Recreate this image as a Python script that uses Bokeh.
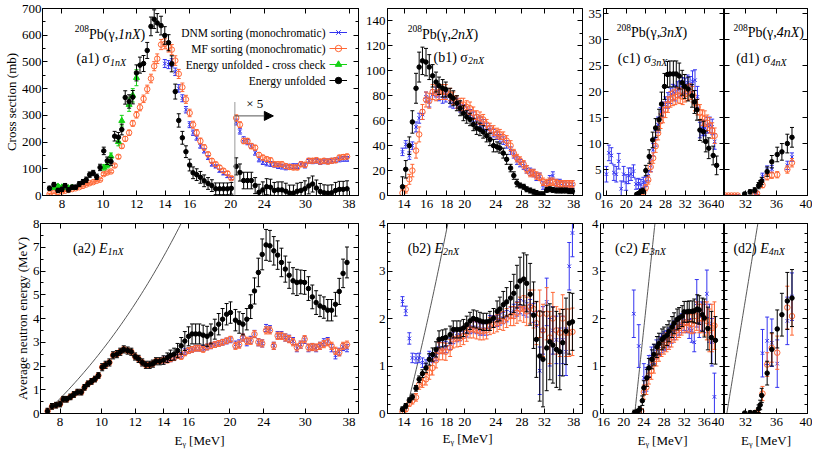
import numpy as np
from bokeh.plotting import figure
from bokeh.layouts import row, column
from bokeh.models import (Range1d, FixedTicker, LinearAxis, LogAxis, BasicTickFormatter,
                          CustomJSTickFormatter, Label, Legend, LegendItem, Title,
                          ColumnDataSource, Arrow, NormalHead)
from bokeh.embed import file_html
from bokeh.resources import INLINE

FONT = "Liberation Serif"
C_DNM = "#3434f0"
C_MF = "#ff6633"
C_CC = "#14d214"
C_EU = "#000000"
X5 = 5.0          # display factor applied above X5_FROM in panel (a1)
X5_FROM = 20.3

# ---------------------------------------------------------------- data
# column (a): 1n channel, shared energy bins (MeV)
EA = [7.48, 7.66, 7.83, 8.00, 8.14, 8.29, 8.46, 8.62, 8.79, 8.97,
      9.13, 9.30, 9.48, 9.66, 9.84, 10.04, 10.23, 10.44, 10.65, 10.87,
      11.07, 11.28, 11.52, 11.75, 11.99, 12.22, 12.46, 12.71, 12.97, 13.20,
      13.42, 13.70, 13.98, 14.27, 14.52, 14.80, 15.08, 15.38, 15.68, 16.00,
      16.30, 16.62, 16.96, 17.31, 17.68, 18.05, 18.43, 18.82, 19.22, 19.64,
      20.06,
      20.60, 21.02, 21.45, 21.90, 22.36, 22.83, 23.31, 23.80, 24.30, 24.81,
      25.33, 25.86, 26.40, 26.96, 27.52, 28.10, 28.69, 29.29, 29.91, 30.54,
      31.18, 31.83, 32.50, 33.18, 33.88, 34.59, 35.32, 36.06, 36.81, 37.59]

S1_EU = [27, 41, 19, 23, 37, 21, 31, 31, 43, 51,
         59, 78, 84, 70, 105, 167, 130, 127, 222, 218,
         247, 367, 352, 368, 459, 488, 494, 543, 633, 660,
         646, 636, 599, 572, 493, 389, 281, 216, 164, 114,
         85, 78, 68, 55, 45, 37, 25, 25, 25, 25,
         27,
         21.8, 17.2, 11.2, 11.2, 11.2, 7.4, 2.4, 4.2, 6.6, 6.2,
         3.8, 4.2, 4.2, 3.2, 1.8, 1.8, 3.2, 3.8, 5.0, 7.2,
         8.6, 5.6, 3.0, 2.0, 1.8, 2.0, 3.8, 4.6, 4.6, 5.0]
S1_EU_ERR = [8, 8, 8, 8, 8, 8, 8, 8, 9, 9,
             10, 10, 10, 10, 12, 14, 14, 14, 18, 18,
             20, 25, 25, 25, 30, 30, 30, 30, 35, 35,
             35, 35, 33, 30, 30, 28, 25, 24, 22, 22,
             22, 22, 22, 22, 22, 22, 22, 22, 22, 22,
             22,
             6.4, 6.4, 6.2, 6.2, 6.2, 6.0, 6.0, 6.0, 6.0, 6.0,
             6.0, 6.0, 6.0, 6.0, 6.0, 6.0, 6.0, 6.0, 6.0, 6.0,
             6.0, 6.0, 6.0, 6.0, 6.0, 6.0, 6.0, 6.0, 6.0, 6.0]

S1_MF = [5, 10, 13, 15, 18, 21, 24, 27, 31, 36,
         41, 46, 50, 55, 59, 80, 86, 90, 112, 145,
         185, 212, 235, 270, 302, 330, 362, 398, 438, 484,
         512, 565, 568, 556, 546, 505, 455, 405, 360, 309,
         265, 235, 204, 180, 154, 130, 117, 105, 93, 83,
         65,
         58, 53, 40.8, 40.8, 37, 35.8, 30.4, 28.4, 27.2, 26.4,
         23.4, 23.4, 23.4, 22, 21.4, 21, 21, 23.4, 23, 26,
         26, 26.4, 25.4, 26, 25.4, 26, 26.4, 28.4, 28.8, 29.2]
S1_MF_ERR = [3, 3, 3, 3, 3, 3, 3, 3, 3, 4,
             4, 4, 4, 4, 4, 5, 5, 5, 6, 7,
             8, 9, 10, 11, 12, 13, 14, 15, 16, 17,
             18, 19, 19, 19, 19, 18, 17, 16, 15, 14,
             13, 12, 11, 10, 9, 8, 8, 7, 7, 7,
             6,
             2.4, 2.2, 2.0, 2.0, 2.0, 1.8, 1.8, 1.8, 1.8, 1.8,
             1.8, 1.8, 1.8, 1.8, 1.8, 1.8, 1.8, 1.8, 1.8, 1.8,
             1.8, 1.8, 1.8, 1.8, 1.8, 1.8, 1.8, 1.8, 1.8, 1.8]

S1_DNM = [None] * 32 + [
         494, 490, 497, 463, 401, 364, 321, 265, 235, 216,
         185, 167, 142, 117, 109, 93, 83, 72, 64,
         55, 48, 42, 40, 37, 32, 27, 25, 24, 23.6,
         23, 22, 21.6, 21, 21.6, 22, 22, 23.6, 22.4, 26,
         25.6, 26, 25, 25.6, 25.6, 26, 26.4, 27, 27.4, 27.4]
S1_DNM_ERR = [None] * 32 + [
         15, 15, 15, 14, 14, 13, 12, 11, 10, 9,
         8, 8, 7, 7, 6, 6, 6, 5, 5,
         2.2, 2.0, 2.0, 2.0, 1.8, 1.8, 1.8, 1.8, 1.8, 1.8,
         1.8, 1.8, 1.8, 1.8, 1.8, 1.8, 1.8, 1.8, 1.8, 1.8,
         1.8, 1.8, 1.8, 1.8, 1.8, 1.8, 1.8, 1.8, 1.8, 1.8]

S1_CC = [None, 30, 34, 31, 33, 28, 30, None, None, None,
         None, None, None, None, None, 105, 113, 147, None, 201,
         280, None, 340, 375, 441]
S1_CC_ERR = [None, 7, 7, 7, 7, 7, 7, None, None, None,
             None, None, None, None, None, 10, 10, 12, None, 15,
             20, None, 25, 25, 30]

E1_EU = [0.1, 0.3, 0.35, 0.4, 0.6, 0.6, 0.7, 0.8, 0.9, 0.9,
         1.1, 1.25, 1.35, 1.45, 1.6, 1.95, 2.05, 2.15, 2.45, 2.5,
         2.6, 2.7, 2.65, 2.6, 2.4, 2.3, 2.15, 2.05, 2.05, 2.1,
         2.2, 2.2, 2.25, 2.35, 2.45, 2.5, 2.65, 2.85, 3.05, 3.25,
         3.35, 3.35, 3.35, 3.3, 3.25, 3.35, 3.55, 3.76, 3.97, 4.18,
         4.25,
         3.93, 3.83, 3.76, 3.97, 4.5, 5.16, 5.94, 6.7, 7.1, 7.06,
         6.85, 6.67, 6.36, 6.08, 5.82, 5.59, 5.52, 5.54, 5.52, 5.26,
         4.91, 4.67, 4.53, 4.46, 4.35, 4.35, 4.6, 5.14, 5.9, 6.36]
E1_EU_ERR = [0.12, 0.12, 0.12, 0.12, 0.12, 0.12, 0.12, 0.12, 0.12, 0.12,
             0.12, 0.12, 0.12, 0.12, 0.12, 0.15, 0.15, 0.15, 0.15, 0.15,
             0.15, 0.15, 0.15, 0.15, 0.15, 0.15, 0.15, 0.15, 0.15, 0.15,
             0.15, 0.15, 0.18, 0.2, 0.22, 0.25, 0.3, 0.35, 0.4, 0.4,
             0.42, 0.42, 0.42, 0.42, 0.42, 0.42, 0.42, 0.45, 0.45, 0.45,
             0.45,
             0.45, 0.45, 0.45, 0.45, 0.5, 0.55, 0.6, 0.65, 0.65, 0.65,
             0.6, 0.6, 0.6, 0.55, 0.55, 0.55, 0.55, 0.5, 0.5, 0.5,
             0.5, 0.5, 0.45, 0.45, 0.45, 0.45, 0.5, 0.55, 0.6, 0.65]
E1_MF = [0.1, 0.3, 0.35, 0.4, 0.6, 0.6, 0.7, 0.8, 0.9, 0.9,
         1.1, 1.25, 1.35, 1.45, 1.6, 1.95, 2.05, 2.15, 2.45, 2.5,
         2.6, 2.7, 2.65, 2.6, 2.4, 2.3, 2.15, 2.05, 2.05, 2.1,
         2.2, 2.2, 2.25, 2.25, 2.3, 2.35, 2.45, 2.4, 2.55, 2.65,
         2.7, 2.75, 2.75, 2.7, 2.8, 2.85, 2.9, 2.95, 3.0, 3.06,
         3.13,
         2.85, 2.9, 3.2, 3.06, 3.06, 3.34, 3.0, 2.95, 3.5, 3.5,
         2.85, 3.27, 3.27, 3.2, 3.13, 3.0, 2.78, 2.9, 3.13, 2.78,
         2.8, 2.78, 2.85, 2.92, 3.0, 2.85, 2.64, 2.57, 2.85, 2.9]
E1_MF_ERR = [0.1] * 32 + [0.12] * 19 + [0.15] * 30
E1_DNM = [None] * 32 + [
         2.25, 2.3, 2.3, 2.35, 2.45, 2.45, 2.6, 2.65, 2.7, 2.75,
         2.75, 2.75, 2.8, 2.85, 2.9, 2.95, 3.0, 3.05, 3.1,
         2.9, 2.95, 3.2, 3.0, 3.1, 3.35, 3.0, 2.95, 3.6, 3.55,
         2.85, 3.3, 3.3, 3.2, 3.15, 3.05, 2.75, 2.9, 3.1, 2.75,
         2.8, 2.75, 2.85, 3.0, 3.05, 2.75, 2.45, 2.6, 2.8, 2.75]
E1_DNM_ERR = [None] * 32 + [0.12] * 19 + [0.15] * 30

# column (b): 2n channel
EB = [13.87, 14.14, 14.44, 14.70, 15.02, 15.30, 15.60, 15.93, 16.24, 16.56,
      16.90, 17.20, 17.57, 17.90, 18.36, 18.70, 19.10, 19.47, 19.85, 20.24,
      20.64, 21.04, 21.46, 21.88, 22.30, 22.75, 23.20, 23.70, 24.20, 24.60,
      25.10, 25.60, 26.20, 26.70, 27.20, 27.70, 28.30, 28.80, 29.40, 30.00,
      30.50, 31.10, 31.70, 32.40, 33.00, 33.60, 34.30, 35.00, 35.60, 36.30,
      37.00, 37.70]
S2_EU = [7, 21, 40, 59, 86, 103, 108, 107, 103, 96,
         91, 88, 86, 85, 80, 78, 74, 70, 66, 63,
         61, 57, 54, 53, 51, 48, 45, 40, 39, 38,
         34, 29, 22, 16, 10, 8, 7, 5, 4, 3,
         2, 1, 1, 4.5, 5, 4.5, 4, 4, 4, 4,
         3.5, 3.5]
S2_EU_ERR = [8, 7, 7, 9, 12, 12, 11, 11, 10, 9,
             8, 7, 7, 6, 6, 6, 6, 6, 6, 5,
             5, 5, 5, 5, 5, 5, 5, 5, 4, 4,
             4, 4, 3, 3, 3, 2, 2, 2, 2, 2,
             2, 2, 2, 2, 2, 2, 2, 2, 2, 2,
             2, 2]
S2_MF = [2, 5, 13, 20, 36, 49, 67, 77, 76, 83,
         82, 83, 83, 83, 81, 78, 75, 73, 73, 71,
         70, 66, 63, 62, 61, 57, 54, 52, 50, 49,
         47, 44, 40, 34, 30, 28, 25, 21, 18, 18,
         16, 15, 11, 10, 11, 11, 10, 9, 9, 9,
         9, 9]
S2_MF_ERR = [3, 3, 4, 5, 6, 6, 6, 6, 6, 6,
             6, 6, 6, 6, 5, 5, 5, 5, 5, 5,
             5, 5, 5, 5, 4, 4, 4, 4, 4, 4,
             4, 4, 4, 3, 3, 3, 3, 3, 3, 3,
             3, 3, 3, 3, 3, 3, 3, 3, 3, 3,
             3, 3]
S2_DNM = [35, 41, 32, 40, 55, 62, 65, 79, 75, 81,
          83, 80, 78, 79, 75, 74, 74, 71, 69, 67,
          65, 63, 61, 59, 57, 55, 53, 50, 48, 46,
          44, 41, 36, 33, 28, 26, 24, 21, 19, 18,
          15, 15, 8, 9, 13, 16, 10, 10, 8, 9,
          9, 9]
S2_DNM_ERR = [3, 3, 3, 3, 4, 4, 4, 4, 4, 4,
              4, 4, 4, 4, 4, 4, 4, 4, 4, 4,
              4, 4, 4, 4, 4, 3, 3, 3, 3, 3,
              3, 3, 3, 3, 3, 3, 3, 3, 3, 3,
              3, 3, 3, 3, 3, 3, 3, 3, 3, 3,
              3, 3]
E2_EU = [0.09, 0.16, 0.28, 0.35, 0.53, 0.72, 0.84, 0.96, 1.14, 1.24,
         1.35, 1.56, 1.58, 1.6, 1.66, 1.77, 1.77, 1.77, 1.8, 1.87,
         1.95, 2.0, 1.98, 1.95, 1.93, 1.93, 1.95, 2.01, 2.15, 2.2,
         2.29, 2.35, 2.43, 2.53, 2.67, 2.79, 2.83, 2.74, 2.51, 2.07,
         1.56, 1.21, 1.14, 1.38, 1.51, 1.44, 1.35, 1.3, 1.49, 1.73,
         1.9, 1.93]
E2_EU_ERR = [0.05, 0.05, 0.05, 0.06, 0.06, 0.07, 0.08, 0.1, 0.12, 0.14,
             0.16, 0.18, 0.18, 0.18, 0.18, 0.18, 0.18, 0.18, 0.18, 0.18,
             0.18, 0.18, 0.18, 0.18, 0.18, 0.18, 0.2, 0.2, 0.22, 0.25,
             0.28, 0.3, 0.35, 0.4, 0.45, 0.5, 0.55, 0.6, 0.65, 0.7,
             0.8, 0.95, 1.0, 0.9, 0.8, 0.8, 0.8, 0.8, 0.7, 0.7,
             0.65, 0.6]
E2_MF = [0.04, 0.09, 0.21, 0.27, 0.34, 0.61, 0.65, 0.72, 0.86, 0.96,
         1.12, 1.31, 1.31, 1.3, 1.38, 1.56, 1.58, 1.59, 1.63, 1.7,
         1.77, 1.77, 1.75, 1.73, 1.73, 1.75, 1.84, 1.87, 1.9, 1.95,
         1.95, 2.01, 2.05, 2.05, 2.12, 2.2, 2.2, 2.15, 2.25, 2.2,
         1.9, 2.1, 1.75, 2.1, 1.6, 2.0, 1.75, 1.7, 2.0, 1.7,
         1.7, 1.72]
E2_MF_ERR = [0.05, 0.05, 0.06, 0.07, 0.08, 0.1, 0.1, 0.12, 0.14, 0.15,
             0.16, 0.18, 0.18, 0.18, 0.18, 0.18, 0.18, 0.18, 0.18, 0.18,
             0.18, 0.18, 0.18, 0.18, 0.18, 0.18, 0.18, 0.18, 0.18, 0.18,
             0.2, 0.2, 0.2, 0.2, 0.22, 0.25, 0.28, 0.3, 0.35, 0.4,
             0.45, 0.5, 0.55, 0.55, 0.55, 0.55, 0.5, 0.5, 0.5, 0.5,
             0.5, 0.5]
E2_DNM = [2.36, 2.16, 1.58, 1.17, 1.16, 1.17, 1.07, 1.03, 1.21, 1.17,
          1.21, 1.38, 1.38, 1.4, 1.47, 1.59, 1.63, 1.65, 1.7, 1.73,
          1.8, 1.82, 1.8, 1.77, 1.77, 1.77, 1.94, 1.94, 1.95, 1.98,
          2.01, 2.05, 2.12, 2.15, 2.2, 2.25, 2.22, 2.18, 2.25, 2.12,
          1.85, 0.9, 1.75, 2.35, 1.5, 1.75, 1.55, 1.3, 1.55, 1.3,
          3.1, 3.8]
E2_DNM_ERR = [0.1, 0.1, 0.12, 0.1, 0.1, 0.1, 0.1, 0.1, 0.1, 0.1,
              0.1, 0.12, 0.12, 0.12, 0.12, 0.12, 0.12, 0.12, 0.12, 0.12,
              0.12, 0.12, 0.12, 0.12, 0.12, 0.12, 0.12, 0.12, 0.12, 0.12,
              0.12, 0.12, 0.12, 0.15, 0.15, 0.15, 0.15, 0.15, 0.15, 0.2,
              0.3, 0.5, 0.5, 0.5, 0.5, 0.5, 0.5, 0.5, 0.5, 0.5,
              0.5, 0.5]

# column (c): 3n channel
EC_EU = [22.15, 22.55, 23.0, 23.4, 24.0, 24.7, 25.4, 26.0, 26.7, 27.2,
         27.8, 28.4, 28.9, 29.6, 30.2, 30.8, 31.4, 31.9, 32.6, 33.4,
         33.9, 34.4, 35.0, 35.7, 36.2, 36.8, 37.7, 38.4]
S3_EU = [0.2, 0.4, 0.8, 0.9, 4.8, 7.5, 10.7, 13, 14.6, 17.6,
         21, 23.3, 23.4, 23.4, 23.4, 23, 21.7, 21, 20.5, 19.2,
         18, 16.5, 12.6, 12.3, 10.4, 9.1, 7.7, 5.8]
S3_EU_ERR = [0.3, 0.3, 0.4, 0.5, 1.0, 1.3, 1.5, 1.8, 2.0, 2.3,
             2.5, 2.5, 2.5, 2.5, 2.5, 2.5, 2.4, 2.3, 2.3, 2.2,
             2.2, 2.0, 2.0, 2.0, 2.0, 2.0, 1.8, 1.8]
EC_EU2 = [22.15, 22.7, 23.2, 23.7, 24.0, 24.6, 25.0, 25.6, 26.0, 26.6,
          27.0, 27.6, 28.0, 28.6, 29.0, 29.6, 30.0, 30.6, 31.0, 31.6,
          32.0, 32.6, 33.0, 33.6, 34.0, 34.6, 35.0, 35.6, 36.0, 36.7,
          37.4, 38.2]
E3_EU = [0.02, 0.04, 0.09, 0.27, 0.54, 0.75, 0.96, 1.14, 1.24, 1.4,
         1.47, 1.56, 1.6, 1.65, 1.73, 1.82, 1.9, 1.98, 2.01, 2.05,
         2.14, 2.14, 2.15, 2.15, 2.16, 2.2, 2.18, 2.08, 2.01, 1.79,
         1.6, 1.54]
E3_EU_ERR = [0.05, 0.05, 0.06, 0.1, 0.15, 0.18, 0.2, 0.2, 0.22, 0.22,
             0.22, 0.22, 0.22, 0.22, 0.22, 0.22, 0.22, 0.22, 0.22, 0.22,
             0.22, 0.22, 0.22, 0.22, 0.25, 0.3, 0.3, 0.35, 0.4, 0.45,
             0.55, 0.5]
EC_MONO = [16.0, 16.5, 17.0, 17.5, 18.0, 18.5, 19.0, 19.5, 20.0, 20.5,
           21.0, 21.5, 22.0, 22.5, 23.0, 23.5, 24.0, 24.5, 25.0, 25.5,
           26.0, 26.5, 27.0, 27.5, 28.0, 28.5, 29.0, 29.5, 30.0, 30.5,
           31.0, 31.5, 32.0, 32.5, 33.0, 33.5, 34.0, 34.5, 35.0, 35.5,
           36.0, 36.5, 37.0, 37.5, 38.0]
S3_DNM = [4.1, 8.2, 7.7, 4.4, 4.1, 6.6, 1.3, 4.1, 2.5, 3.8,
          4.1, 4.7, 2.2, 2.3, 2.1, 2.5, 2.7, 3.8, 5.8, 8.8,
          11.0, 13.6, 15.4, 16.5, 17.5, 18.3, 19.2, 19.9, 19.7, 20.4,
          20.6, 21.2, 21.1, 21.7, 21.4, 22.0, 22.2, 19.0, 12.6, 13.0,
          13.0, 13.5, 13.6, 13.2, 10.4]
S3_DNM_ERR = [1.5, 1.5, 1.5, 1.5, 1.5, 1.5, 1.5, 1.5, 1.5, 1.5,
              1.2, 1.2, 1.0, 1.0, 1.0, 1.0, 1.0, 1.0, 1.2, 1.2,
              1.5, 1.5, 1.5, 1.5, 1.5, 1.5, 1.5, 1.5, 1.5, 1.5,
              1.5, 1.5, 1.5, 1.5, 1.5, 2.0, 2.0, 2.0, 1.5, 1.5,
              1.5, 1.5, 1.5, 1.5, 1.5]
S3_MF = [None] * 14 + [
         0.2, 0.5, 1.5, 3.0, 5.5, 7.2, 9.5, 12.0, 14.3, 15.5,
         16.5, 17.5, 18.5, 18.8, 19.0, 19.3, 19.2, 19.0, 19.5, 19.8,
         20.0, 19.5, 17.8, 17.0, 16.0, 15.0, 14.8, 14.0, 13.5, 12.5,
         11.5]
S3_MF_ERR = [None] * 14 + [
         0.3, 0.4, 0.6, 0.8, 1.0, 1.0, 1.2, 1.3, 1.4, 1.5,
         1.5, 1.5, 1.5, 1.5, 1.5, 1.5, 1.5, 1.5, 1.5, 1.5,
         1.5, 1.5, 1.5, 1.5, 1.5, 1.5, 1.5, 1.5, 1.5, 1.5,
         1.5]
E3_DNM = [None] * 12 + [
          2.1, None, 1.42, None, 0.75, 0.72, 1.0, 1.2, 1.25, 1.35,
          1.42, 1.48, 1.52, 1.55, 1.6, 1.68, 1.75, 1.8, 1.85, 1.9,
          1.95, 1.9, 1.78, 1.75, 1.5, 2.32, 1.9, 2.05, 2.0, 2.52,
          1.9, 1.5, 0.35]
E3_DNM_ERR = [None] * 12 + [
          0.5, None, 0.45, None, 0.3, 0.25, 0.22, 0.2, 0.2, 0.2,
          0.2, 0.2, 0.2, 0.2, 0.2, 0.2, 0.2, 0.2, 0.2, 0.2,
          0.2, 0.2, 0.2, 0.25, 0.2, 0.5, 0.3, 0.3, 0.3, 0.5,
          0.4, 0.5, 0.5]
E3_MF = [None] * 14 + [
         0.03, 0.05, 0.45, 0.55, 0.8, 0.9, 1.05, 1.2, 1.3, 1.4,
         1.45, 1.5, 1.55, 1.6, 1.7, 1.75, 1.8, 1.85, 1.9, 1.92,
         1.9, 1.88, 1.95, 2.05, 2.0, 2.0, 2.0, 1.95, 1.75, 1.8,
         1.85]
E3_MF_ERR = [None] * 14 + [
         0.05, 0.05, 0.15, 0.15, 0.18, 0.18, 0.2, 0.2, 0.2, 0.2,
         0.2, 0.2, 0.2, 0.2, 0.2, 0.2, 0.2, 0.2, 0.2, 0.2,
         0.2, 0.2, 0.25, 0.3, 0.3, 0.3, 0.35, 0.4, 0.45, 0.5,
         0.5]

# column (d): 4n channel
ED_EU = [31.9, 32.6, 33.2, 33.7, 33.9, 34.1, 34.8, 35.4, 36.1, 36.7, 37.4, 38.0]
S4_EU = [0.3, 0.7, 1.0, 1.9, 2.3, 2.8, 4.6, 6.5, 7.9, 8.4, 10.0, 11.2]
S4_EU_ERR = [0.3, 0.4, 0.5, 0.6, 0.6, 0.7, 0.9, 1.2, 1.4, 1.6, 1.8, 1.9]
E4_EU = [0.01, 0.02, 0.02, 0.1, 0.18, 0.38, 0.85, 1.35, 1.78, 2.08, 2.37, 2.43]
E4_EU_ERR = [0.02, 0.03, 0.04, 0.08, 0.1, 0.15, 0.25, 0.35, 0.4, 0.45, 0.6, 0.6]
ED_MONO = [29.4, 29.8, 30.2, 30.6, 31.0, 33.2, 33.5, 34.2, 34.8, 35.4, 36.1, 36.7, 37.4, 38.0]
S4_DNM = [0, 0, 0, 0, 0, 0.3, 0.5, 3.7, 5.0, 5.1, None, None, 5.8, 7.4]
S4_DNM_ERR = [0.1, 0.1, 0.1, 0.1, 0.1, 0.3, 0.3, 0.6, 0.7, 0.7, None, None, 0.8, 0.8]
S4_MF = [0, 0, 0, 0, 0, 0.3, 0.4, 2.0, 3.6, 3.9, 4.0, None, 5.0, 6.3]
S4_MF_ERR = [0.1, 0.1, 0.1, 0.1, 0.1, 0.3, 0.3, 0.5, 0.6, 0.6, 0.6, None, 0.7, 0.8]
E4_DNM = [None, None, None, None, None, None, None, 1.27, 1.53, 1.49, 1.05, None, 1.95, 2.46]
E4_DNM_ERR = [None, None, None, None, None, None, None, 0.5, 0.5, 0.5, 0.5, None, 0.5, 0.5]
E4_MF = [None, None, None, None, None, 0.0, 0.02, 0.42, 1.03, 1.38, 1.28, None, 2.23, 2.05]
E4_MF_ERR = [None, None, None, None, None, 0.05, 0.05, 0.15, 0.25, 0.3, 0.35, None, 0.45, 0.4]

# neutron separation thresholds used for the kinematic limit curves (MeV)
THRESH = [7.37, 14.11, 22.2, 29.6]

# ---------------------------------------------------------------- helpers
REG = {'0': .5, '1': .5, '2': .5, '3': .5, '4': .5, '5': .5, '6': .5, '7': .5,
       '8': .5, '9': .5, 'P': .556, 'b': .5, '(': .333, ')': .333, ',': .25,
       ' ': .25, 'a': .444, 'c': .444, 'd': .5, 'E': .611, 'n': .5, 'X': .722,
       'γ': .43, 'σ': .54}
ITA = {'1': .5, '2': .5, '3': .5, '4': .5, 'n': .5, 'X': .611, 'E': .611}


def text_w(s, size, italic):
    tab = ITA if italic else REG
    return sum(tab.get(ch, .5) for ch in s) * size


def rich(p, x, y, parts):
    off = 0.0
    for txt, size, italic, dy in parts:
        p.add_layout(Label(x=x, y=y, x_offset=off, y_offset=dy, text=txt,
                           text_font=FONT, text_font_size=f"{size}px",
                           text_font_style="italic" if italic else "normal",
                           text_baseline="alphabetic", text_align="left",
                           text_color="black"))
        off += text_w(txt, size, italic)


def style_axis(ax, ticks, minor, labels, standoff=3):
    ax.ticker = FixedTicker(ticks=ticks, minor_ticks=minor)
    ax.major_tick_in = 5
    ax.major_tick_out = 0
    ax.minor_tick_in = 3
    ax.minor_tick_out = 0
    ax.axis_line_color = "black"
    ax.major_tick_line_color = "black"
    ax.minor_tick_line_color = "black"
    ax.major_label_text_font = FONT
    ax.major_label_text_color = "black"
    if labels:
        ax.formatter = BasicTickFormatter()
        ax.major_label_text_font_size = "13px"
        ax.major_label_standoff = standoff
    else:
        ax.formatter = CustomJSTickFormatter(code="return ''")
        ax.major_label_text_font_size = "0px"
        ax.major_label_standoff = 0


def set_label(ax, lab, standoff):
    ax.axis_label = lab
    ax.axis_label_text_font = FONT
    ax.axis_label_text_font_size = "13px"
    ax.axis_label_text_font_style = "normal"
    ax.axis_label_text_color = "black"
    ax.axis_label_standoff = standoff


def panel(w, h, xr, yr, xlog, xt, xm, yt, ym, ylabels, borders,
          ylabel=None, xlabel=None):
    p = figure(width=w, height=h,
               x_range=Range1d(*xr), y_range=Range1d(*yr),
               x_axis_type="log" if xlog else "linear",
               output_backend="svg", toolbar_location=None,
               min_border_left=borders[0], min_border_right=borders[1],
               min_border_top=borders[2], min_border_bottom=borders[3])
    p.xgrid.visible = False
    p.ygrid.visible = False
    p.outline_line_color = "black"
    p.background_fill_color = "white"
    p.border_fill_color = "white"
    bottom = p.below[0]
    left = p.left[0]
    style_axis(bottom, xt, xm, True, standoff=4)
    style_axis(left, yt, ym, ylabels, standoff=1 if ylabel else 2)
    if ylabel:
        set_label(left, ylabel, 0)
    if xlabel:
        set_label(bottom, xlabel, 4)
    top = LogAxis() if xlog else LinearAxis()
    style_axis(top, xt, xm, False)
    p.add_layout(top, "above")
    right = LinearAxis()
    style_axis(right, yt, ym, False)
    p.add_layout(right, "right")
    return p


def series(p, x, y, e, color, marker, size, fill, factor=None):
    x = np.asarray(x, dtype=float)
    y = np.asarray([np.nan if v is None else v for v in y], dtype=float)
    e = np.asarray([np.nan if v is None else v for v in e], dtype=float)
    if factor is not None:
        f = np.where(x > X5_FROM, factor, 1.0)
        y = y * f
        e = e * f
    m = ~np.isnan(y)
    src = ColumnDataSource(dict(x=x[m], y=y[m], lo=y[m] - e[m], hi=y[m] + e[m]))
    seg = p.segment(x0="x", y0="lo", x1="x", y1="hi", source=src,
                    line_color=color, line_width=1)
    p.scatter("x", "lo", source=src, marker="dash", size=4, line_color=color)
    p.scatter("x", "hi", source=src, marker="dash", size=4, line_color=color)
    pts = p.scatter("x", "y", source=src, marker=marker, size=size,
                    line_color=color, line_width=1,
                    fill_color=color if fill else None)
    return seg, pts


def limit_curve(p, thr, ymax):
    xs = np.linspace(thr, thr + ymax, 60)
    p.line(xs, xs - thr, line_color="#444444", line_width=0.9)


# ---------------------------------------------------------------- layout
# page origin is the window's top-left corner
W_A, W_B, W_C, W_D = 361, 224, 139, 88
B_A, B_B, B_C, B_D = (40, 3), (26, 3), (15, 0), (0, 5)
H_TOP, TOP_B = 215, (8, 20)
H_BOT, BOT_B = 241, (8, 43)
FW_A, FH_A = W_A - B_A[0] - B_A[1], H_TOP - TOP_B[0] - TOP_B[1]

a1 = panel(W_A, H_TOP, (7.2, 40), (0, 700), True,
           [8, 10, 12, 14, 16, 20, 24, 30, 38], [],
           list(range(0, 701, 100)), list(range(50, 700, 100)), True,
           B_A + TOP_B, ylabel="Cross section (mb)")
b1 = panel(W_B, H_TOP, (12.7, 40), (0, 150), True,
           [14, 16, 18, 20, 24, 28, 32, 38], [],
           list(range(0, 141, 20)), list(range(10, 150, 20)), True,
           B_B + TOP_B)
c1 = panel(W_C, H_TOP, (15.4, 40), (0, 36), False,
           [16, 20, 24, 28, 32, 36, 40], [],
           [0, 5, 10, 15, 20, 25, 30, 35], [], True, B_C + TOP_B)
d1 = panel(W_D, H_TOP, (29.3, 40), (0, 36), False,
           [32, 36, 40], [],
           [0, 5, 10, 15, 20, 25, 30, 35], [], False, B_D + TOP_B)

XL = "E\u1d67 [MeV]"
a2 = panel(W_A, H_BOT, (7.2, 40), (0, 8), True,
           [8, 10, 12, 14, 16, 20, 24, 30, 38], [],
           list(range(0, 9)), [0.5 + i for i in range(8)], True,
           B_A + BOT_B, ylabel="Average neutron energy (MeV)", xlabel=XL)
minor4 = [v / 5 for v in range(1, 20) if v % 5]
b2 = panel(W_B, H_BOT, (12.7, 40), (0, 4), True,
           [14, 16, 18, 20, 24, 28, 32, 38], [],
           [0, 1, 2, 3, 4], minor4, True, B_B + BOT_B)
# x label of (b2) as a title in the bottom border, placed left of centre as in the original
b2.add_layout(Title(text=XL, align="left", offset=55, standoff=0,
                    text_font=FONT, text_font_size="13px",
                    text_font_style="normal", text_color="black"), "below")
c2 = panel(W_C, H_BOT, (15.4, 40), (0, 4), False,
           [16, 20, 24, 28, 32, 36, 40], [],
           [0, 1, 2, 3, 4], minor4, True, B_C + BOT_B, xlabel=XL)
d2 = panel(W_D, H_BOT, (29.3, 40), (0, 4), False,
           [32, 36, 40], [],
           [0, 1, 2, 3, 4], minor4, False, B_D + BOT_B, xlabel=XL)

# ---------------------------------------------------------------- glyphs
# order: DNM, MF, cross-check, energy unfolded (drawn on top)
sty_dnm = (C_DNM, "x", 5, False)
sty_mf = (C_MF, "circle", 5.5, False)
sty_cc = (C_CC, "triangle", 6, True)
sty_eu = (C_EU, "circle", 4.5, True)

leg_dnm = series(a1, EA, S1_DNM, S1_DNM_ERR, *sty_dnm, factor=X5)
leg_mf = series(a1, EA, S1_MF, S1_MF_ERR, *sty_mf, factor=X5)
leg_cc = series(a1, EA[:len(S1_CC)], S1_CC, S1_CC_ERR, *sty_cc)
leg_eu = series(a1, EA, S1_EU, S1_EU_ERR, *sty_eu, factor=X5)

series(b1, EB, S2_DNM, S2_DNM_ERR, *sty_dnm)
series(b1, EB, S2_MF, S2_MF_ERR, *sty_mf)
series(b1, EB, S2_EU, S2_EU_ERR, *sty_eu)

series(c1, EC_MONO, S3_DNM, S3_DNM_ERR, *sty_dnm)
series(c1, EC_MONO, S3_MF, S3_MF_ERR, *sty_mf)
series(c1, EC_EU, S3_EU, S3_EU_ERR, *sty_eu)

series(d1, ED_MONO, S4_DNM, S4_DNM_ERR, *sty_dnm)
series(d1, ED_MONO, S4_MF, S4_MF_ERR, *sty_mf)
series(d1, ED_EU, S4_EU, S4_EU_ERR, *sty_eu)

limit_curve(a2, THRESH[0], 8.5)
limit_curve(b2, THRESH[1], 4.2)
limit_curve(c2, THRESH[2], 4.2)
limit_curve(d2, THRESH[3], 4.2)

series(a2, EA, E1_DNM, E1_DNM_ERR, *sty_dnm)
series(a2, EA, E1_MF, E1_MF_ERR, *sty_mf)
series(a2, EA, E1_EU, E1_EU_ERR, *sty_eu)

series(b2, EB, E2_DNM, E2_DNM_ERR, *sty_dnm)
series(b2, EB, E2_MF, E2_MF_ERR, *sty_mf)
series(b2, EB, E2_EU, E2_EU_ERR, *sty_eu)

series(c2, EC_MONO, E3_DNM, E3_DNM_ERR, *sty_dnm)
series(c2, EC_MONO, E3_MF, E3_MF_ERR, *sty_mf)
series(c2, EC_EU2, E3_EU, E3_EU_ERR, *sty_eu)

series(d2, ED_MONO, E4_DNM, E4_DNM_ERR, *sty_dnm)
series(d2, ED_MONO, E4_MF, E4_MF_ERR, *sty_mf)
series(d2, ED_EU, E4_EU, E4_EU_ERR, *sty_eu)

# ---------------------------------------------------------------- legend (a1)
LEG_TEXT = ["DNM sorting (monochromatic)", "MF sorting (monochromatic)",
            "Energy unfolded - cross check", "Energy unfolded"]
items = [LegendItem(label=" ", renderers=list(r))
         for r in (leg_dnm, leg_mf, leg_cc, leg_eu)]
legend = Legend(items=items, location=(FW_A - 31, FH_A - 16 - 64),
                orientation="vertical", glyph_width=18, glyph_height=16,
                label_width=0, label_height=16, label_standoff=0,
                label_text_font_size="1px", padding=0, margin=0, spacing=0,
                background_fill_alpha=0, border_line_alpha=0)
a1.add_layout(legend)
for i, t in enumerate(LEG_TEXT):
    a1.add_layout(Label(x=FW_A - 35, y=FH_A - 24 - 16 * i, x_units="screen",
                        y_units="screen", text=t, text_font=FONT,
                        text_font_size="11.5px", text_align="right",
                        text_baseline="middle", text_color="black"))

# x5 marker in (a1)
a1.add_layout(Arrow(x_start=20.45, y_start=0, x_end=20.45, y_end=350, end=None,
                    line_color="#9a9a9a", line_width=1))
a1.add_layout(Arrow(x_start=20.45, y_start=298, x_end=25.2, y_end=298,
                    end=NormalHead(size=9, fill_color="black", line_color="black"),
                    line_color="#555555", line_width=1))
a1.add_layout(Label(x=21.75, y=343, text="\u00d7 5", text_font=FONT,
                    text_font_size="13px", text_baseline="middle",
                    text_color="black"))

# ---------------------------------------------------------------- panel texts
def title(p, x, y, ch):
    rich(p, x, y, [("208", 9.5, False, 5.5), ("Pb(\u03b3,", 14, False, 0),
                   (ch + "nX", 14, True, 0), (")", 14, False, 0)])


title(a1, 8.58, 604, "1")
title(b1, 14.3, 129.5, "2")
title(c1, 18.1, 31.3, "3")
title(d1, 30.45, 31.3, "4")
rich(a1, 8.66, 512, [("(a1) \u03c3", 14, False, 0), ("1nX", 10, True, -3.5)])
rich(b1, 16.65, 111, [("(b1) \u03c3", 14, False, 0), ("2nX", 10, True, -3.5)])
rich(c1, 18.3, 26.3, [("(c1) \u03c3", 14, False, 0), ("3nX", 10, True, -3.5)])
rich(d1, 30.8, 26.3, [("(d1) \u03c3", 14, False, 0), ("4nX", 10, True, -3.5)])
rich(a2, 8.58, 6.95, [("(a2) ", 14, False, 0), ("E", 14, True, 0), ("1nX", 10, True, -3.5)])
rich(b2, 14.3, 3.48, [("(b2) ", 14, False, 0), ("E", 14, True, 0), ("2nX", 10, True, -3.5)])
rich(c2, 18.3, 3.48, [("(c2) ", 14, False, 0), ("E", 14, True, 0), ("3nX", 10, True, -3.5)])
rich(d2, 30.45, 3.48, [("(d2) ", 14, False, 0), ("E", 14, True, 0), ("4nX", 10, True, -3.5)])

layout = column(row(a1, b1, c1, d1, spacing=0), row(a2, b2, c2, d2, spacing=0),
                spacing=0)
open("out.html", "w").write(file_html(layout, INLINE))
